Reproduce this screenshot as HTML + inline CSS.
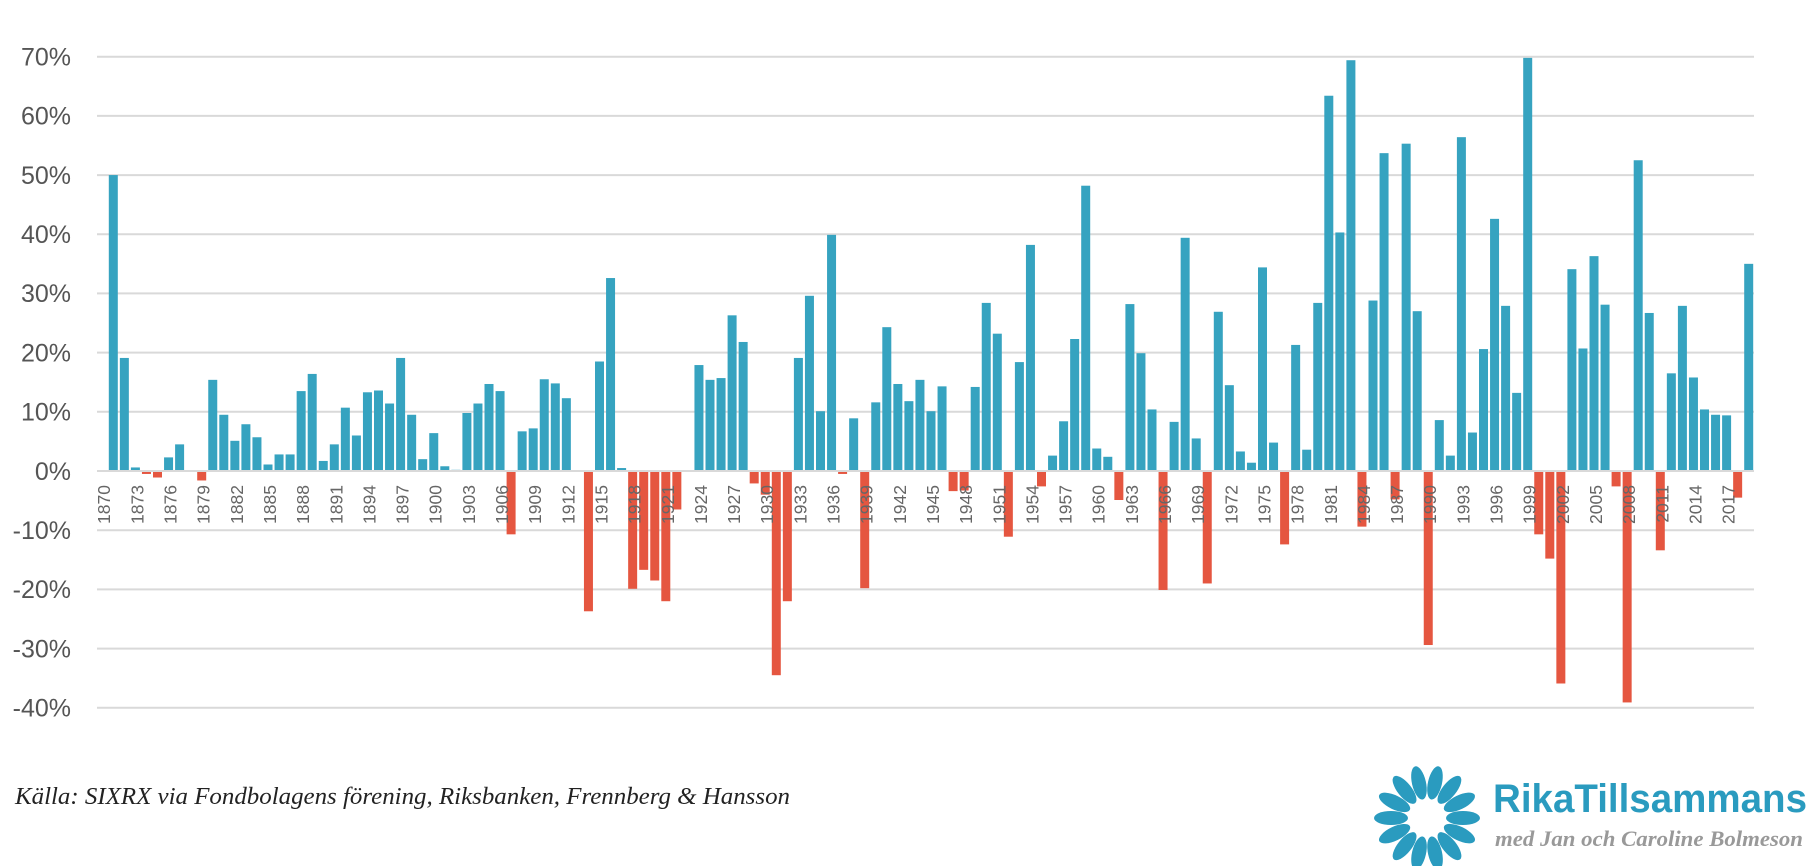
<!DOCTYPE html>
<html><head><meta charset="utf-8"><style>
html,body{margin:0;padding:0;background:#fff;}
svg{display:block;}
</style></head><body>
<svg width="1809" height="866" viewBox="0 0 1809 866" xmlns="http://www.w3.org/2000/svg">
<g stroke="#d9d9d9" stroke-width="2">
<line x1="97" x2="1754" y1="56.7" y2="56.7"/>
<line x1="97" x2="1754" y1="115.9" y2="115.9"/>
<line x1="97" x2="1754" y1="175.1" y2="175.1"/>
<line x1="97" x2="1754" y1="234.2" y2="234.2"/>
<line x1="97" x2="1754" y1="293.4" y2="293.4"/>
<line x1="97" x2="1754" y1="352.6" y2="352.6"/>
<line x1="97" x2="1754" y1="411.8" y2="411.8"/>
<line x1="97" x2="1754" y1="530.2" y2="530.2"/>
<line x1="97" x2="1754" y1="589.4" y2="589.4"/>
<line x1="97" x2="1754" y1="648.6" y2="648.6"/>
<line x1="97" x2="1754" y1="707.8" y2="707.8"/>
</g>
<g font-family="Liberation Sans, sans-serif" font-size="25" fill="#555" text-anchor="end">
<text x="71" y="65.5">70%</text>
<text x="71" y="124.7">60%</text>
<text x="71" y="183.9">50%</text>
<text x="71" y="243">40%</text>
<text x="71" y="302.2">30%</text>
<text x="71" y="361.4">20%</text>
<text x="71" y="420.6">10%</text>
<text x="71" y="479.8">0%</text>
<text x="71" y="539">-10%</text>
<text x="71" y="598.2">-20%</text>
<text x="71" y="657.4">-30%</text>
<text x="71" y="716.6">-40%</text>
</g>
<g transform="translate(108.8,471) scale(11.05,-5.919)">
<g fill="#36a3c0">
<rect x="0" y="0" width="0.8145" height="50"/>
<rect x="1" y="0" width="0.8145" height="19.1"/>
<rect x="2" y="0" width="0.8145" height="0.6"/>
<rect x="5" y="0" width="0.8145" height="2.3"/>
<rect x="6" y="0" width="0.8145" height="4.5"/>
<rect x="9" y="0" width="0.8145" height="15.4"/>
<rect x="10" y="0" width="0.8145" height="9.5"/>
<rect x="11" y="0" width="0.8145" height="5.1"/>
<rect x="12" y="0" width="0.8145" height="7.9"/>
<rect x="13" y="0" width="0.8145" height="5.7"/>
<rect x="14" y="0" width="0.8145" height="1.1"/>
<rect x="15" y="0" width="0.8145" height="2.8"/>
<rect x="16" y="0" width="0.8145" height="2.8"/>
<rect x="17" y="0" width="0.8145" height="13.5"/>
<rect x="18" y="0" width="0.8145" height="16.4"/>
<rect x="19" y="0" width="0.8145" height="1.7"/>
<rect x="20" y="0" width="0.8145" height="4.5"/>
<rect x="21" y="0" width="0.8145" height="10.7"/>
<rect x="22" y="0" width="0.8145" height="6.0"/>
<rect x="23" y="0" width="0.8145" height="13.3"/>
<rect x="24" y="0" width="0.8145" height="13.6"/>
<rect x="25" y="0" width="0.8145" height="11.4"/>
<rect x="26" y="0" width="0.8145" height="19.1"/>
<rect x="27" y="0" width="0.8145" height="9.5"/>
<rect x="28" y="0" width="0.8145" height="2.0"/>
<rect x="29" y="0" width="0.8145" height="6.4"/>
<rect x="30" y="0" width="0.8145" height="0.8"/>
<rect x="31" y="0" width="0.8145" height="0.2"/>
<rect x="32" y="0" width="0.8145" height="9.8"/>
<rect x="33" y="0" width="0.8145" height="11.4"/>
<rect x="34" y="0" width="0.8145" height="14.7"/>
<rect x="35" y="0" width="0.8145" height="13.5"/>
<rect x="37" y="0" width="0.8145" height="6.7"/>
<rect x="38" y="0" width="0.8145" height="7.2"/>
<rect x="39" y="0" width="0.8145" height="15.5"/>
<rect x="40" y="0" width="0.8145" height="14.8"/>
<rect x="41" y="0" width="0.8145" height="12.3"/>
<rect x="44" y="0" width="0.8145" height="18.5"/>
<rect x="45" y="0" width="0.8145" height="32.6"/>
<rect x="46" y="0" width="0.8145" height="0.5"/>
<rect x="53" y="0" width="0.8145" height="17.9"/>
<rect x="54" y="0" width="0.8145" height="15.4"/>
<rect x="55" y="0" width="0.8145" height="15.7"/>
<rect x="56" y="0" width="0.8145" height="26.3"/>
<rect x="57" y="0" width="0.8145" height="21.8"/>
<rect x="62" y="0" width="0.8145" height="19.1"/>
<rect x="63" y="0" width="0.8145" height="29.6"/>
<rect x="64" y="0" width="0.8145" height="10.1"/>
<rect x="65" y="0" width="0.8145" height="39.9"/>
<rect x="67" y="0" width="0.8145" height="8.9"/>
<rect x="69" y="0" width="0.8145" height="11.6"/>
<rect x="70" y="0" width="0.8145" height="24.3"/>
<rect x="71" y="0" width="0.8145" height="14.7"/>
<rect x="72" y="0" width="0.8145" height="11.8"/>
<rect x="73" y="0" width="0.8145" height="15.4"/>
<rect x="74" y="0" width="0.8145" height="10.1"/>
<rect x="75" y="0" width="0.8145" height="14.3"/>
<rect x="78" y="0" width="0.8145" height="14.2"/>
<rect x="79" y="0" width="0.8145" height="28.4"/>
<rect x="80" y="0" width="0.8145" height="23.2"/>
<rect x="82" y="0" width="0.8145" height="18.4"/>
<rect x="83" y="0" width="0.8145" height="38.2"/>
<rect x="85" y="0" width="0.8145" height="2.6"/>
<rect x="86" y="0" width="0.8145" height="8.4"/>
<rect x="87" y="0" width="0.8145" height="22.3"/>
<rect x="88" y="0" width="0.8145" height="48.2"/>
<rect x="89" y="0" width="0.8145" height="3.8"/>
<rect x="90" y="0" width="0.8145" height="2.4"/>
<rect x="92" y="0" width="0.8145" height="28.2"/>
<rect x="93" y="0" width="0.8145" height="19.9"/>
<rect x="94" y="0" width="0.8145" height="10.4"/>
<rect x="96" y="0" width="0.8145" height="8.3"/>
<rect x="97" y="0" width="0.8145" height="39.4"/>
<rect x="98" y="0" width="0.8145" height="5.5"/>
<rect x="100" y="0" width="0.8145" height="26.9"/>
<rect x="101" y="0" width="0.8145" height="14.5"/>
<rect x="102" y="0" width="0.8145" height="3.3"/>
<rect x="103" y="0" width="0.8145" height="1.4"/>
<rect x="104" y="0" width="0.8145" height="34.4"/>
<rect x="105" y="0" width="0.8145" height="4.8"/>
<rect x="107" y="0" width="0.8145" height="21.3"/>
<rect x="108" y="0" width="0.8145" height="3.6"/>
<rect x="109" y="0" width="0.8145" height="28.4"/>
<rect x="110" y="0" width="0.8145" height="63.4"/>
<rect x="111" y="0" width="0.8145" height="40.3"/>
<rect x="112" y="0" width="0.8145" height="69.4"/>
<rect x="114" y="0" width="0.8145" height="28.8"/>
<rect x="115" y="0" width="0.8145" height="53.7"/>
<rect x="117" y="0" width="0.8145" height="55.3"/>
<rect x="118" y="0" width="0.8145" height="27.0"/>
<rect x="120" y="0" width="0.8145" height="8.6"/>
<rect x="121" y="0" width="0.8145" height="2.6"/>
<rect x="122" y="0" width="0.8145" height="56.4"/>
<rect x="123" y="0" width="0.8145" height="6.5"/>
<rect x="124" y="0" width="0.8145" height="20.6"/>
<rect x="125" y="0" width="0.8145" height="42.6"/>
<rect x="126" y="0" width="0.8145" height="27.9"/>
<rect x="127" y="0" width="0.8145" height="13.2"/>
<rect x="128" y="0" width="0.8145" height="69.8"/>
<rect x="132" y="0" width="0.8145" height="34.1"/>
<rect x="133" y="0" width="0.8145" height="20.7"/>
<rect x="134" y="0" width="0.8145" height="36.3"/>
<rect x="135" y="0" width="0.8145" height="28.1"/>
<rect x="138" y="0" width="0.8145" height="52.5"/>
<rect x="139" y="0" width="0.8145" height="26.7"/>
<rect x="141" y="0" width="0.8145" height="16.5"/>
<rect x="142" y="0" width="0.8145" height="27.9"/>
<rect x="143" y="0" width="0.8145" height="15.8"/>
<rect x="144" y="0" width="0.8145" height="10.4"/>
<rect x="145" y="0" width="0.8145" height="9.5"/>
<rect x="146" y="0" width="0.8145" height="9.4"/>
<rect x="148" y="0" width="0.8145" height="35.0"/>
</g>
<g fill="#e55640">
<rect x="3" y="-0.5" width="0.8145" height="0.5"/>
<rect x="4" y="-1.1" width="0.8145" height="1.1"/>
<rect x="8" y="-1.6" width="0.8145" height="1.6"/>
<rect x="36" y="-10.7" width="0.8145" height="10.7"/>
<rect x="43" y="-23.7" width="0.8145" height="23.7"/>
<rect x="47" y="-19.9" width="0.8145" height="19.9"/>
<rect x="48" y="-16.7" width="0.8145" height="16.7"/>
<rect x="49" y="-18.5" width="0.8145" height="18.5"/>
<rect x="50" y="-22.0" width="0.8145" height="22.0"/>
<rect x="51" y="-6.5" width="0.8145" height="6.5"/>
<rect x="58" y="-2.1" width="0.8145" height="2.1"/>
<rect x="59" y="-4" width="0.8145" height="4"/>
<rect x="60" y="-34.5" width="0.8145" height="34.5"/>
<rect x="61" y="-22.0" width="0.8145" height="22.0"/>
<rect x="66" y="-0.5" width="0.8145" height="0.5"/>
<rect x="68" y="-19.8" width="0.8145" height="19.8"/>
<rect x="76" y="-3.4" width="0.8145" height="3.4"/>
<rect x="77" y="-3.3" width="0.8145" height="3.3"/>
<rect x="81" y="-11.1" width="0.8145" height="11.1"/>
<rect x="84" y="-2.6" width="0.8145" height="2.6"/>
<rect x="91" y="-4.9" width="0.8145" height="4.9"/>
<rect x="95" y="-20.1" width="0.8145" height="20.1"/>
<rect x="99" y="-19.0" width="0.8145" height="19.0"/>
<rect x="106" y="-12.4" width="0.8145" height="12.4"/>
<rect x="113" y="-9.4" width="0.8145" height="9.4"/>
<rect x="116" y="-4.8" width="0.8145" height="4.8"/>
<rect x="119" y="-29.4" width="0.8145" height="29.4"/>
<rect x="129" y="-10.7" width="0.8145" height="10.7"/>
<rect x="130" y="-14.8" width="0.8145" height="14.8"/>
<rect x="131" y="-35.9" width="0.8145" height="35.9"/>
<rect x="136" y="-2.6" width="0.8145" height="2.6"/>
<rect x="137" y="-39.1" width="0.8145" height="39.1"/>
<rect x="140" y="-13.4" width="0.8145" height="13.4"/>
<rect x="147" y="-4.5" width="0.8145" height="4.5"/>
</g>
</g>
<line x1="97" x2="1754" y1="471" y2="471" stroke="#d9d9d9" stroke-width="2"/>
<g font-family="Liberation Sans, sans-serif" font-size="17.5" fill="#666" text-anchor="end">
<text transform="translate(110.2,485) rotate(-90)">1870</text>
<text transform="translate(143.4,485) rotate(-90)">1873</text>
<text transform="translate(176.5,485) rotate(-90)">1876</text>
<text transform="translate(209.7,485) rotate(-90)">1879</text>
<text transform="translate(242.8,485) rotate(-90)">1882</text>
<text transform="translate(276.0,485) rotate(-90)">1885</text>
<text transform="translate(309.1,485) rotate(-90)">1888</text>
<text transform="translate(342.3,485) rotate(-90)">1891</text>
<text transform="translate(375.4,485) rotate(-90)">1894</text>
<text transform="translate(408.6,485) rotate(-90)">1897</text>
<text transform="translate(441.7,485) rotate(-90)">1900</text>
<text transform="translate(474.9,485) rotate(-90)">1903</text>
<text transform="translate(508.0,485) rotate(-90)">1906</text>
<text transform="translate(541.2,485) rotate(-90)">1909</text>
<text transform="translate(574.3,485) rotate(-90)">1912</text>
<text transform="translate(607.5,485) rotate(-90)">1915</text>
<text transform="translate(640.6,485) rotate(-90)">1918</text>
<text transform="translate(673.8,485) rotate(-90)">1921</text>
<text transform="translate(706.9,485) rotate(-90)">1924</text>
<text transform="translate(740.1,485) rotate(-90)">1927</text>
<text transform="translate(773.2,485) rotate(-90)">1930</text>
<text transform="translate(806.4,485) rotate(-90)">1933</text>
<text transform="translate(839.5,485) rotate(-90)">1936</text>
<text transform="translate(872.7,485) rotate(-90)">1939</text>
<text transform="translate(905.8,485) rotate(-90)">1942</text>
<text transform="translate(939.0,485) rotate(-90)">1945</text>
<text transform="translate(972.1,485) rotate(-90)">1948</text>
<text transform="translate(1005.3,485) rotate(-90)">1951</text>
<text transform="translate(1038.4,485) rotate(-90)">1954</text>
<text transform="translate(1071.6,485) rotate(-90)">1957</text>
<text transform="translate(1104.7,485) rotate(-90)">1960</text>
<text transform="translate(1137.9,485) rotate(-90)">1963</text>
<text transform="translate(1171.0,485) rotate(-90)">1966</text>
<text transform="translate(1204.2,485) rotate(-90)">1969</text>
<text transform="translate(1237.3,485) rotate(-90)">1972</text>
<text transform="translate(1270.5,485) rotate(-90)">1975</text>
<text transform="translate(1303.6,485) rotate(-90)">1978</text>
<text transform="translate(1336.8,485) rotate(-90)">1981</text>
<text transform="translate(1369.9,485) rotate(-90)">1984</text>
<text transform="translate(1403.1,485) rotate(-90)">1987</text>
<text transform="translate(1436.2,485) rotate(-90)">1990</text>
<text transform="translate(1469.4,485) rotate(-90)">1993</text>
<text transform="translate(1502.5,485) rotate(-90)">1996</text>
<text transform="translate(1535.7,485) rotate(-90)">1999</text>
<text transform="translate(1568.8,485) rotate(-90)">2002</text>
<text transform="translate(1602.0,485) rotate(-90)">2005</text>
<text transform="translate(1635.1,485) rotate(-90)">2008</text>
<text transform="translate(1668.3,485) rotate(-90)">2011</text>
<text transform="translate(1701.4,485) rotate(-90)">2014</text>
<text transform="translate(1734.6,485) rotate(-90)">2017</text>
</g>
<text x="15" y="804" font-family="Liberation Serif, serif" font-style="italic" font-size="24" fill="#222" textLength="775" lengthAdjust="spacingAndGlyphs">Källa: SIXRX via Fondbolagens förening, Riksbanken, Frennberg &amp; Hansson</text>
<g transform="translate(1427,818)" fill="#2a9bbf">
<ellipse cx="36" cy="0" rx="17" ry="7" transform="rotate(0)"/>
<ellipse cx="36" cy="0" rx="17" ry="7" transform="rotate(25.7)"/>
<ellipse cx="36" cy="0" rx="17" ry="7" transform="rotate(51.4)"/>
<ellipse cx="36" cy="0" rx="17" ry="7" transform="rotate(77.1)"/>
<ellipse cx="36" cy="0" rx="17" ry="7" transform="rotate(102.8)"/>
<ellipse cx="36" cy="0" rx="17" ry="7" transform="rotate(128.5)"/>
<ellipse cx="36" cy="0" rx="17" ry="7" transform="rotate(154.2)"/>
<ellipse cx="36" cy="0" rx="17" ry="7" transform="rotate(180)"/>
<ellipse cx="36" cy="0" rx="17" ry="7" transform="rotate(205.7)"/>
<ellipse cx="36" cy="0" rx="17" ry="7" transform="rotate(231.4)"/>
<ellipse cx="36" cy="0" rx="17" ry="7" transform="rotate(257.1)"/>
<ellipse cx="36" cy="0" rx="17" ry="7" transform="rotate(282.8)"/>
<ellipse cx="36" cy="0" rx="17" ry="7" transform="rotate(308.5)"/>
<ellipse cx="36" cy="0" rx="17" ry="7" transform="rotate(334.2)"/>
</g>
<text x="1493" y="812" font-family="Liberation Sans, sans-serif" font-weight="bold" font-size="40" fill="#2a9bbf" textLength="314" lengthAdjust="spacingAndGlyphs">RikaTillsammans</text>
<text x="1495" y="846" font-family="Liberation Serif, serif" font-style="italic" font-weight="bold" font-size="22" fill="#999" textLength="308" lengthAdjust="spacingAndGlyphs">med Jan och Caroline Bolmeson</text>
</svg>
</body></html>
